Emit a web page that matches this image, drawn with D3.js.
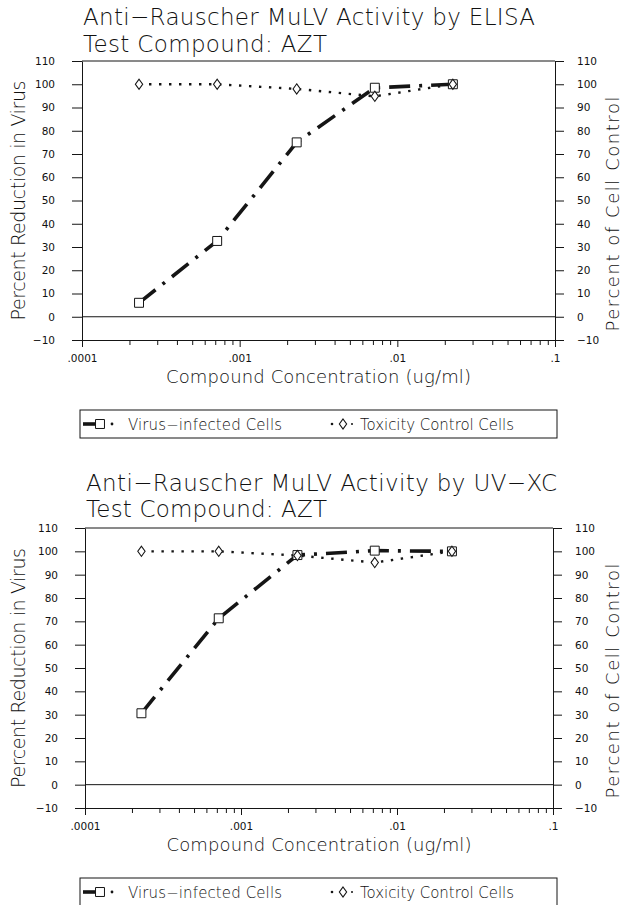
<!DOCTYPE html>
<html>
<head>
<meta charset="utf-8">
<script src="https://cdn.jsdelivr.net/npm/d3@7/dist/d3.min.js"></script>
<style>
  html, body { margin: 0; padding: 0; background: #fff; }
  svg { display: block; }
  text { font-family: "DejaVu Sans", sans-serif; fill: #111; }
</style>
</head>
<body>
<svg id="chart" width="625" height="905"></svg>
<script>
// ---------------- data ----------------
const concentrations = [0.00023, 0.00072, 0.0023, 0.0072, 0.0225];
const elisaVirus = [6, 32.6, 75, 98.5, 100];
const elisaToxicity = [100, 100, 98, 94.8, 100];
const uvxcVirus = [30.6, 71.3, 98.4, 100.3, 100];
const uvxcToxicity = [100, 100, 98.2, 95.2, 100];
const yTicks = [-10, 0, 10, 20, 30, 40, 50, 60, 70, 80, 90, 100, 110];
const xMajorTicks = [0.0001, 0.001, 0.01, 0.1];
const xTickLabels = [".0001", ".001", ".01", ".1"];
const titleLine1 = ["Anti\u2212Rauscher MuLV Activity by ELISA", "Anti\u2212Rauscher MuLV Activity by UV\u2212XC"];
const titleLine2 = "Test Compound: AZT";
const xTitle = "Compound Concentration (ug/ml)";
const yTitleLeft = "Percent Reduction in Virus";
const yTitleRight = "Percent of Cell Control";
const legendLabels = ["Virus\u2212infected Cells", "Toxicity Control Cells"];

// ---------------- layout ----------------
const panels = [
  { x0: 82, x1: 555, yTop: 61, yBot: 340, t1: 25, t2: 52, tx: 83, t1w: 452, t2w: 244,
    virus: elisaVirus, tox: elisaToxicity, title: titleLine1[0] },
  { x0: 85, x1: 553, yTop: 528, yBot: 808, t1: 491, t2: 517, tx: 86, t1w: 471, t2w: 241,
    virus: uvxcVirus, tox: uvxcToxicity, title: titleLine1[1] }
];

const svg = d3.select("#chart");
const ink = "#151515";

function fitText(sel, w) {
  sel.attr("textLength", w).attr("lengthAdjust", "spacing");
}

panels.forEach(p => {
  const g = svg.append("g");
  const x = d3.scaleLog().domain([0.0001, 0.1]).range([p.x0, p.x1]);
  const y = d3.scaleLinear().domain([-10, 110]).range([p.yBot, p.yTop]);

  // titles
  g.append("text").attr("x", p.tx).attr("y", p.t1).attr("font-size", 23).attr("font-weight", 300)
    .text(p.title).call(fitText, p.t1w);
  g.append("text").attr("x", p.tx).attr("y", p.t2).attr("font-size", 23).attr("font-weight", 300)
    .text(titleLine2).call(fitText, p.t2w);

  // left axis
  const la = g.append("g").attr("transform", `translate(${p.x0},0)`)
    .call(d3.axisLeft(y).tickValues(yTicks).tickSize(10).tickSizeOuter(0).tickPadding(17));
  // right axis
  const ra = g.append("g").attr("transform", `translate(${p.x1},0)`)
    .call(d3.axisRight(y).tickValues(yTicks).tickSize(9).tickSizeOuter(0).tickPadding(13));
  [la, ra].forEach(a => {
    a.selectAll("text").attr("font-size", 10.5).attr("font-family", "DejaVu Sans").attr("fill", ink);
    a.selectAll("line,path").attr("stroke", ink).attr("stroke-width", 1);
  });

  // bottom axis with minor ticks
  const allTicks = x.ticks();
  const ba = g.append("g").attr("transform", `translate(0,${p.yBot})`)
    .call(d3.axisBottom(x).tickValues(allTicks).tickSizeOuter(0).tickSize(5)
      .tickFormat(d => { const i = xMajorTicks.findIndex(v => Math.abs(v - d) / v < 1e-6); return i >= 0 ? xTickLabels[i] : ""; }));
  ba.selectAll("line,path").attr("stroke", ink).attr("stroke-width", 1);
  ba.selectAll(".tick").each(function(d) {
    const major = xMajorTicks.some(v => Math.abs(v - d) / v < 1e-6);
    d3.select(this).select("line").attr("y2", major ? 7 : 5);
    d3.select(this).select("text").attr("y", 22).attr("dy", 0).attr("font-size", 10.5).attr("fill", ink);
  });

  // top border and zero line
  g.append("line").attr("x1", p.x0).attr("x2", p.x1).attr("y1", y(110)).attr("y2", y(110))
    .attr("stroke", ink).attr("stroke-width", 1);
  g.append("line").attr("x1", p.x0).attr("x2", p.x1).attr("y1", y(0)).attr("y2", y(0))
    .attr("stroke", ink).attr("stroke-width", 1);

  // axis titles
  g.append("text").attr("x", (p.x0 + p.x1) / 2).attr("y", p.yBot + 43).attr("text-anchor", "middle")
    .attr("font-size", 18).attr("font-weight", 300).text(xTitle).call(fitText, 305);
  g.append("text").attr("transform", `translate(25,${(p.yTop + p.yBot) / 2}) rotate(-90)`)
    .attr("text-anchor", "middle").attr("font-size", 19).attr("font-weight", 300)
    .text(yTitleLeft).call(fitText, 240);
  g.append("text").attr("transform", `translate(619,${p.yTop + 153}) rotate(-90)`)
    .attr("text-anchor", "middle").attr("font-size", 18).attr("font-weight", 300)
    .text(yTitleRight).call(fitText, 235);

  // series
  const virusPts = concentrations.map((c, i) => [x(c), y(p.virus[i])]);
  const toxPts = concentrations.map((c, i) => [x(c), y(p.tox[i])]);
  const line = d3.line();
  g.append("path").attr("d", line(toxPts)).attr("fill", "none").attr("stroke", ink)
    .attr("stroke-width", 2.4).attr("stroke-dasharray", "2.4 7.6");
  g.append("path").attr("d", line(virusPts)).attr("fill", "none").attr("stroke", ink)
    .attr("stroke-width", 3.6).attr("stroke-dasharray", "21 9 3 9");

  const sq = d3.symbol().type(d3.symbolSquare).size(80);
  const dm = d3.symbol().type(d3.symbolDiamond).size(30);
  g.selectAll(".sq").data(virusPts).enter().append("path")
    .attr("transform", d => `translate(${d[0]},${d[1]})`).attr("d", sq)
    .attr("fill", "#fff").attr("stroke", ink).attr("stroke-width", 1);
  g.selectAll(".dm").data(toxPts).enter().append("path")
    .attr("transform", d => `translate(${d[0]},${d[1]}) scale(1.25,1)`).attr("d", dm)
    .attr("fill", "#fff").attr("stroke", ink).attr("stroke-width", 0.9);

  // legend
  const ly = p.yBot + 70;
  g.append("rect").attr("x", 80).attr("y", ly).attr("width", 477).attr("height", 28)
    .attr("fill", "none").attr("stroke", ink).attr("stroke-width", 1);
  const lc = ly + 14;
  g.append("line").attr("x1", 83).attr("x2", 95).attr("y1", lc).attr("y2", lc)
    .attr("stroke", ink).attr("stroke-width", 3.6);
  g.append("path").attr("transform", `translate(100,${lc})`).attr("d", sq)
    .attr("fill", "#fff").attr("stroke", ink).attr("stroke-width", 1);
  g.append("circle").attr("cx", 112).attr("cy", lc).attr("r", 1.4).attr("fill", ink);
  g.append("text").attr("x", 128).attr("y", ly + 20).attr("font-size", 15).attr("font-weight", 300)
    .text(legendLabels[0]).call(fitText, 154);
  g.append("circle").attr("cx", 332).attr("cy", lc).attr("r", 1.3).attr("fill", ink);
  g.append("path").attr("transform", `translate(343,${lc}) scale(1.25,1)`).attr("d", dm)
    .attr("fill", "#fff").attr("stroke", ink).attr("stroke-width", 0.9);
  g.append("circle").attr("cx", 352).attr("cy", lc).attr("r", 1.0).attr("fill", ink);
  g.append("text").attr("x", 360).attr("y", ly + 20).attr("font-size", 15).attr("font-weight", 300)
    .text(legendLabels[1]).call(fitText, 154);
});
</script>
</body>
</html>
